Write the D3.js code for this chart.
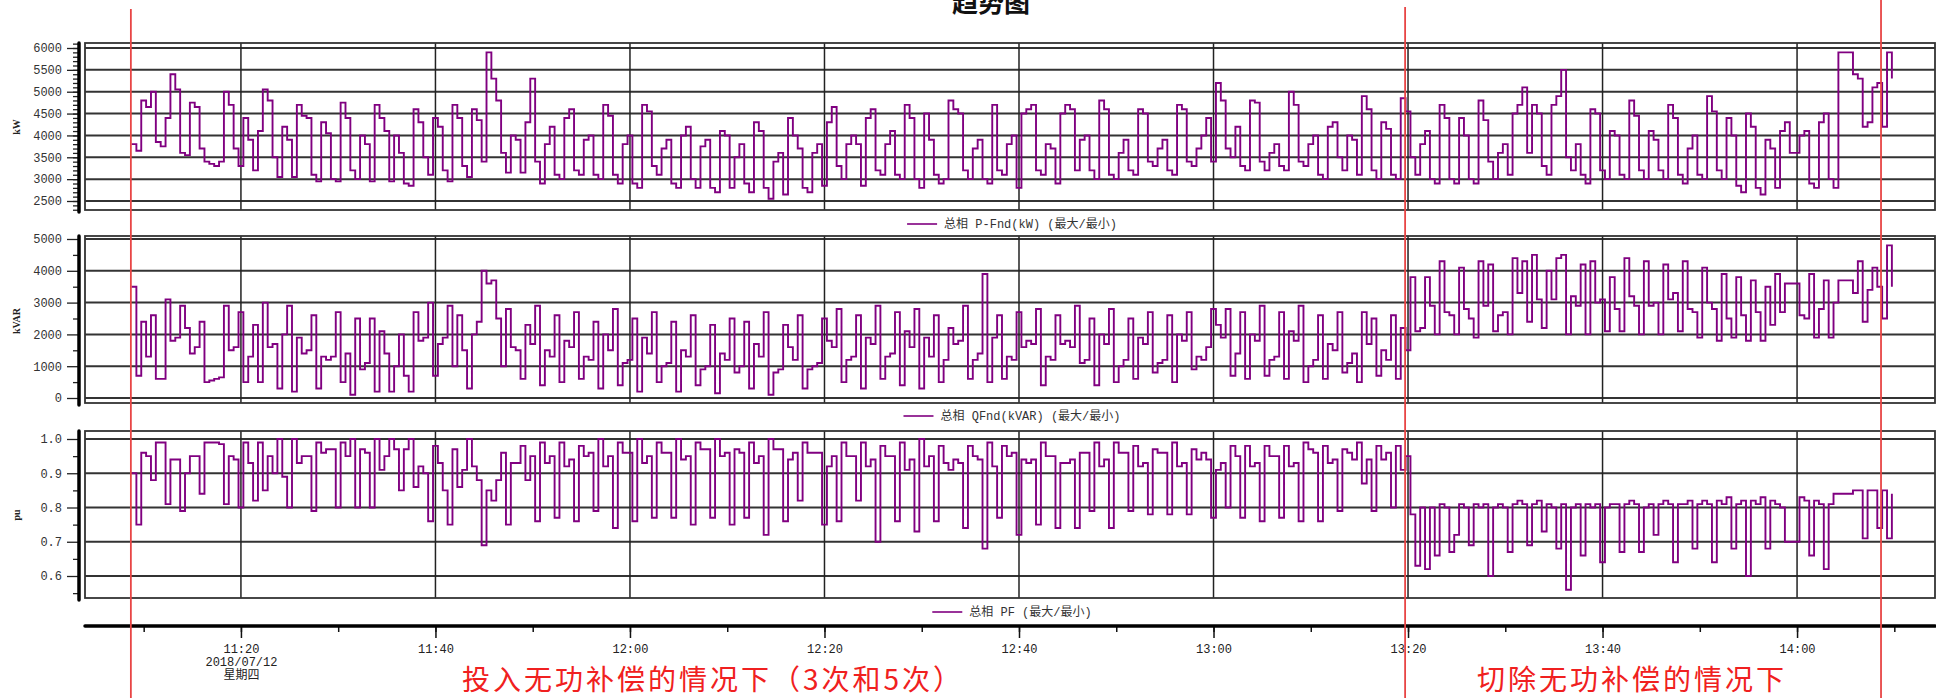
<!DOCTYPE html>
<html>
<head>
<meta charset="utf-8">
<script src="https://cdn.jsdelivr.net/npm/d3@7"></script>
<style>
  body { margin: 0; background: #fff; }
  svg { display: block; }
</style>
</head>
<body>
<div id="viz"></div>
<script>
// samples every 30 s starting at startTime
const startTime = "2018-07-12 11:08:45";
const stepSeconds = 30;

const pValues = [
	3800,3650,4800,4650,5000,3850,3750,4400,5400,5050,
	3600,3550,4750,4650,3700,3400,3350,3300,3400,5000,
	4700,3700,3300,4400,3900,3200,4100,5050,4800,3500,
	3050,4200,3900,3050,4700,4450,4400,3100,2950,4300,
	4050,3000,2950,4750,4400,3200,3000,4000,3800,2950,
	4700,4400,4100,2950,4000,3600,2900,2850,4600,4300,
	3500,3100,4400,4200,3200,2950,4700,4400,3300,3050,
	4600,4350,3400,5900,5300,4800,3600,3150,4000,3900,
	3150,4300,5300,3400,2900,3800,4200,3100,3000,4400,
	4600,3200,3100,3900,4000,3100,3000,4700,4450,3100,
	2900,3800,4000,2900,2800,4700,4550,3300,3100,3700,
	3900,2900,2800,4000,4200,3000,2800,3750,3900,2800,
	2700,4100,4000,2800,3500,3800,2900,2700,4300,4100,
	2800,2550,3400,3600,2650,4400,4000,3700,2800,2700,
	3600,3800,2850,4300,4650,3300,3000,3800,4000,3800,
	2850,4400,4600,3200,3100,3800,4100,3100,3000,4700,
	4400,3000,2800,4500,3900,3100,2900,3000,4800,4600,
	4500,3200,3000,3700,3900,3000,2900,4700,3200,3100,
	3800,4000,2800,4500,4600,4700,3200,3100,3800,3700,
	2900,4500,4700,4600,3200,3900,4000,3200,3000,4800,
	4600,3100,3000,3600,3900,3200,3100,4600,4500,3400,
	3300,3700,3900,3200,3100,4700,4600,3400,3300,3700,
	4000,4400,3400,5200,4800,3700,3500,4200,3300,3200,
	4800,4750,3400,3200,3600,3800,3300,3200,5000,4700,
	3400,3300,3800,4000,3100,3000,4200,4300,3500,3200,
	4000,3900,3100,4900,4600,3200,3000,4300,4150,3100,
	3000,4850,4550,3500,3100,3800,4100,3000,2900,4700,
	4400,3000,2900,4400,4000,3000,2900,4800,4350,3400,
	3000,3600,3800,3100,4500,4700,5100,3600,4700,4500,
	3300,3100,4700,4900,5500,3500,3200,3800,3100,2900,
	4600,4500,3200,3000,4100,4000,3100,3000,4800,4450,
	3200,3000,4100,3900,3200,3000,4700,4400,3100,2900,
	3700,4000,3100,3000,4900,4550,3200,3000,4400,4000,
	2850,2700,4500,4200,2800,2650,3900,3700,2800,4100,
	4300,3600,3600,4000,4100,2900,2800,4300,4500,3000,
	2800,5900,5900,5900,5400,5300,4200,4300,5100,5200,
	4200,5900,5300
];

const qValues = [
	3500,700,2400,1300,2600,600,600,3100,1800,1900,
	2900,2200,1400,1600,2400,500,550,600,650,2900,
	1500,1600,2700,500,1300,2300,500,3000,1600,1700,
	300,2000,2900,200,1900,1400,1500,2600,300,1300,
	1200,1300,2700,500,1400,100,2500,900,1100,2500,
	200,2100,1400,200,1000,2000,700,200,2700,1800,
	1900,3000,700,1700,1900,2900,1000,2600,1500,300,
	2000,2400,4000,3600,3700,2500,1000,2800,1600,1500,
	600,2300,1700,2900,400,1500,1300,2600,500,1800,
	1600,2700,600,1300,1200,2400,300,2000,1500,2800,
	400,1100,1200,2500,200,1900,1400,2700,500,1000,
	1100,2400,200,1500,1300,2600,400,900,1000,2300,
	150,1400,1200,2500,800,1000,2400,300,1700,1300,
	2700,100,800,900,2300,1600,1200,2600,300,900,
	1000,1100,2500,1800,1600,2800,500,1200,1300,2600,
	300,1900,1700,2900,600,1300,1400,2700,400,2100,
	1600,2800,300,1900,1300,2600,500,1200,2200,1700,
	1800,2900,600,1200,1400,3900,500,1900,2600,600,
	1300,1200,2700,1600,1800,1700,2800,400,1300,1200,
	2600,1700,1800,1600,2900,1100,1200,2500,400,2000,
	1700,2800,500,1000,1200,2500,600,1900,1700,2700,
	800,1100,1200,2600,500,2000,1800,2700,900,1300,
	1200,1600,2800,2300,1900,2800,700,1400,2700,600,
	2000,1800,2900,700,1200,1300,2700,600,2100,1800,
	2900,500,1000,1200,2600,600,1700,1500,2700,800,
	1100,1400,500,2700,1700,2500,700,1500,1200,2600,
	600,2200,1500,3800,2100,2200,3800,2900,2000,4300,
	2700,2600,2000,4100,2800,2500,1900,4300,2900,4200,
	2100,2600,2700,2000,4400,3300,4300,2400,4500,3100,
	2200,4000,3100,4400,4500,2000,3200,2900,4200,2000,
	4300,3000,3100,2100,3800,2800,2100,4400,3200,2900,
	2000,4300,2900,3000,2000,4200,3100,3300,2100,4300,
	2800,2700,1900,4100,3000,2800,1800,3900,2500,1900,
	3800,2600,1800,3700,2700,1800,3500,2300,3900,2700,
	3600,3600,3600,2600,2500,3900,1900,2800,3700,1900,
	3000,3700,3700,3700,3300,4300,2400,3400,4100,3500,
	2500,4800,3500
];

const pfValues = [
	0.90,0.75,0.96,0.95,0.88,0.99,0.99,0.81,0.94,0.94,
	0.79,0.90,0.95,0.95,0.84,0.99,0.99,0.99,0.985,0.81,
	0.95,0.94,0.80,0.99,0.93,0.82,0.99,0.85,0.95,0.90,
	1.00,0.89,0.80,1.00,0.93,0.95,0.95,0.79,0.99,0.96,
	0.97,0.97,0.80,0.99,0.95,1.00,0.80,0.97,0.96,0.80,
	1.00,0.91,0.95,1.00,0.97,0.85,0.97,1.00,0.86,0.92,
	0.90,0.76,0.98,0.93,0.85,0.75,0.97,0.86,0.91,1.00,
	0.92,0.88,0.69,0.85,0.82,0.88,0.96,0.75,0.93,0.93,
	0.98,0.88,0.95,0.76,0.99,0.93,0.95,0.77,0.99,0.92,
	0.94,0.76,0.98,0.95,0.96,0.79,1.00,0.92,0.95,0.74,
	0.99,0.96,0.96,0.76,1.00,0.93,0.95,0.77,0.99,0.96,
	0.96,0.77,1.00,0.94,0.95,0.75,0.99,0.97,0.97,0.77,
	1.00,0.95,0.96,0.75,0.97,0.96,0.77,0.99,0.93,0.95,
	0.72,1.00,0.97,0.97,0.76,0.94,0.96,0.82,0.99,0.96,
	0.96,0.96,0.75,0.92,0.95,0.76,0.99,0.95,0.95,0.82,
	0.99,0.92,0.94,0.70,0.98,0.95,0.95,0.76,0.99,0.91,
	0.94,0.73,1.00,0.92,0.95,0.76,0.98,0.93,0.91,0.94,
	0.93,0.74,0.98,0.95,0.94,0.68,0.99,0.92,0.77,0.98,
	0.95,0.96,0.72,0.94,0.93,0.94,0.75,0.99,0.95,0.95,
	0.74,0.93,0.93,0.94,0.74,0.96,0.96,0.79,0.99,0.92,
	0.94,0.74,0.99,0.96,0.96,0.79,0.98,0.92,0.93,0.78,
	0.97,0.96,0.96,0.78,0.99,0.92,0.93,0.78,0.97,0.94,
	0.96,0.94,0.77,0.91,0.93,0.80,0.98,0.95,0.77,0.98,
	0.92,0.93,0.76,0.98,0.95,0.95,0.77,0.98,0.92,0.93,
	0.76,0.99,0.97,0.96,0.76,0.98,0.93,0.94,0.79,0.97,
	0.96,0.94,0.99,0.87,0.94,0.79,0.98,0.94,0.96,0.80,
	0.98,0.91,0.95,0.78,0.63,0.80,0.62,0.80,0.66,0.81,
	0.80,0.67,0.72,0.81,0.80,0.69,0.81,0.80,0.81,0.60,
	0.80,0.81,0.80,0.67,0.81,0.82,0.81,0.69,0.81,0.82,
	0.73,0.81,0.80,0.68,0.81,0.56,0.80,0.81,0.66,0.81,
	0.80,0.81,0.64,0.80,0.81,0.81,0.67,0.81,0.82,0.81,
	0.67,0.80,0.81,0.72,0.81,0.82,0.81,0.64,0.81,0.81,
	0.82,0.68,0.81,0.82,0.81,0.64,0.82,0.81,0.83,0.68,
	0.81,0.82,0.60,0.82,0.81,0.83,0.68,0.82,0.81,0.80,
	0.70,0.70,0.70,0.83,0.82,0.66,0.82,0.81,0.62,0.81,
	0.84,0.84,0.84,0.84,0.85,0.85,0.71,0.85,0.85,0.74,
	0.85,0.71,0.84
];

const pTicks = [2500, 3000, 3500, 4000, 4500, 5000, 5500, 6000];
const qTicks = [0, 1000, 2000, 3000, 4000, 5000];
const pfTicks = [0.6, 0.7, 0.8, 0.9, 1.0];

const dateLines = ["2018/07/12", "星期四"];
const markerTimes = ["2018-07-12 11:08:41", "2018-07-12 13:19:42", "2018-07-12 14:08:38"];
const notes = ["投入无功补偿的情况下（3次和5次）", "切除无功补偿的情况下"];

const W = 1936, H = 698;
const left = 85, right = 1935;
const purple = "#800080";
const red = "#f02020";
const parseTime = d3.timeParse("%Y-%m-%d %H:%M:%S");
const t0 = parseTime(startTime);

const svg = d3.select("#viz").append("svg")
	.attr("width", W).attr("height", H);

const x = d3.scaleTime()
	.domain([parseTime("2018-07-12 11:03:58"), parseTime("2018-07-12 14:14:11")])
	.range([left, right]);

const gridTimes = d3.timeMinute.every(20).range(x.domain()[0], x.domain()[1]);

const panels = [
	{values: pValues, ticks: pTicks, minor: d3.range(2300, 6101, 100), domain: [2500, 6000], range: [201, 48],
		top: 43, bottom: 210, unit: "kW", unitY: 127, legend: "总相 P-Fnd(kW) (最大/最小)", legendY: 224, fmt: d3.format("d")},
	{values: qValues, ticks: qTicks, minor: d3.range(500, 4501, 1000), domain: [0, 5000], range: [398, 239],
		top: 236, bottom: 403, unit: "kVAR", unitY: 321, legend: "总相 QFnd(kVAR) (最大/最小)", legendY: 416, fmt: d3.format("d")},
	{values: pfValues, ticks: pfTicks, minor: [0.55, 0.65, 0.75, 0.85, 0.95], domain: [0.6, 1.0], range: [576, 439],
		top: 431, bottom: 598, unit: "pu", unitY: 515, legend: "总相 PF (最大/最小)", legendY: 612, fmt: d3.format(".1f")}
];

// title, mostly cut off at the top like the original
svg.append("text")
	.attr("x", 991).attr("y", 12)
	.attr("text-anchor", "middle")
	.style("font", "bold 26px 'Noto Sans CJK SC'")
	.style("fill", "#111")
	.text("趋势图");

panels.forEach((p, k) => {
	const y = d3.scaleLinear().domain(p.domain).range(p.range);
	const g = svg.append("g");

	svg.append("clipPath").attr("id", "clip" + k)
		.append("rect")
		.attr("x", left).attr("y", p.top)
		.attr("width", right - left).attr("height", p.bottom - p.top);

	// horizontal grid
	g.selectAll(".hgrid").data(p.ticks).enter().append("line")
		.attr("x1", left).attr("x2", right)
		.attr("y1", d => y(d)).attr("y2", d => y(d))
		.style("stroke", "#333").style("stroke-width", 2);

	// vertical grid
	g.selectAll(".vgrid").data(gridTimes).enter().append("line")
		.attr("x1", d => x(d)).attr("x2", d => x(d))
		.attr("y1", p.top).attr("y2", p.bottom)
		.style("stroke", "#222").style("stroke-width", 1.5);

	g.append("rect")
		.attr("x", left).attr("y", p.top)
		.attr("width", right - left).attr("height", p.bottom - p.top)
		.style("fill", "none").style("stroke", "#333").style("stroke-width", 1.8);

	const line = d3.line()
		.x((d, i) => x(new Date(t0.getTime() + i * stepSeconds * 1000)))
		.y(d => y(d))
		.curve(d3.curveStepAfter);

	g.append("path")
		.attr("clip-path", "url(#clip" + k + ")")
		.attr("d", line(p.values))
		.style("fill", "none")
		.style("stroke", purple)
		.style("stroke-width", 1.9);

	// y axis
	const major = g.append("g").attr("transform", "translate(79,0)")
		.call(d3.axisLeft(y).tickValues(p.ticks).tickSize(12).tickPadding(5).tickFormat(p.fmt));
	const minor = g.append("g").attr("transform", "translate(79,0)")
		.call(d3.axisLeft(y).tickValues(p.minor).tickSize(6).tickFormat(""));
	[major, minor].forEach(a => {
		a.select(".domain").remove();
		a.selectAll(".tick line").style("stroke", "#222").style("stroke-width", 1.3);
	});
	major.selectAll("text")
		.style("font-family", "'Liberation Mono', monospace")
		.style("font-size", "12px")
		.style("fill", "#333");

	g.append("line")
		.attr("x1", 79).attr("x2", 79)
		.attr("y1", p.top).attr("y2", p.bottom + 2)
		.style("stroke", "#000").style("stroke-width", 3.5)
		.style("stroke-linecap", "round");

	g.append("text")
		.attr("transform", "translate(20," + p.unitY + ") rotate(-90)")
		.attr("text-anchor", "middle")
		.style("font", "bold 10px 'Liberation Serif'")
		.style("fill", "#222")
		.text(p.unit);

	// legend under the panel
	const lg = g.append("g");
	const lt = lg.append("text")
		.attr("x", 37).attr("y", p.legendY).attr("dy", "0.35em")
		.style("font-family", "'Liberation Mono', 'Noto Sans CJK SC'")
		.style("font-size", "12px")
		.style("fill", "#333")
		.text(p.legend);
	lg.append("line")
		.attr("x1", 0).attr("x2", 30)
		.attr("y1", p.legendY).attr("y2", p.legendY)
		.style("stroke", "#993399").style("stroke-width", 2);
	const tw = 37 + lt.node().getComputedTextLength();
	lg.attr("transform", "translate(" + (1012 - tw / 2) + ",0)");
});

// time axis
const axisY = 626;
const minorT = svg.append("g").attr("transform", "translate(0," + axisY + ")")
	.call(d3.axisBottom(x).ticks(d3.timeMinute.every(10)).tickSize(6).tickFormat(""));
const majorT = svg.append("g").attr("transform", "translate(0," + axisY + ")")
	.call(d3.axisBottom(x).ticks(d3.timeMinute.every(20)).tickSize(12).tickPadding(6)
		.tickFormat(d3.timeFormat("%H:%M")));
[minorT, majorT].forEach(a => {
	a.select(".domain").remove();
	a.selectAll(".tick line").style("stroke", "#111").style("stroke-width", 1.5);
});
majorT.selectAll("text")
	.style("font-family", "'Liberation Mono', monospace")
	.style("font-size", "12px")
	.style("fill", "#222");
majorT.selectAll(".tick text").filter((d, i) => i === 0).each(function () {
	const t = d3.select(this);
	dateLines.forEach(s => {
		t.append("tspan").attr("x", 0).attr("dy", 13)
			.style("font-family", "'Liberation Mono', 'Noto Sans CJK SC'")
			.text(s);
	});
});
svg.append("line")
	.attr("x1", left).attr("x2", right)
	.attr("y1", axisY).attr("y2", axisY)
	.style("stroke", "#000").style("stroke-width", 3.5)
	.style("stroke-linecap", "round");

// red marker lines
svg.selectAll(".marker").data(markerTimes).enter().append("line")
	.attr("x1", d => x(parseTime(d))).attr("x2", d => x(parseTime(d)))
	.attr("y1", (d, i) => [9, 7, 0][i]).attr("y2", H)
	.style("stroke", "#e84545").style("stroke-width", 1.8);

// red notes
svg.selectAll(".note").data(notes).enter().append("text")
	.attr("x", (d, i) => [462, 1477][i])
	.attr("y", 689.5)
	.style("font", "28px 'Noto Sans CJK SC'")
	.style("letter-spacing", "3px")
	.style("fill", red)
	.text(d => d);
</script>
</body>
</html>
